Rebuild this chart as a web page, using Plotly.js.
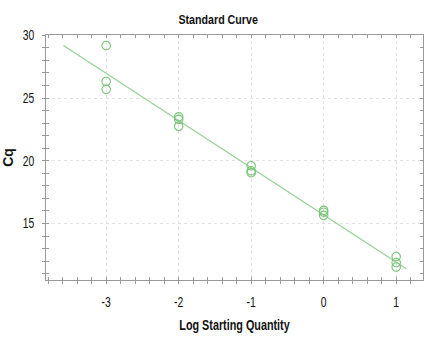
<!DOCTYPE html>
<html>
<head>
<meta charset="utf-8">
<script src="https://cdn.plot.ly/plotly-3.0.1.min.js"></script>
<style>html,body{margin:0;padding:0;background:#fff;}#chart{width:432px;height:351px;}</style>
</head>
<body>
<div id="chart"></div>
<script>
// Data
const logQty = [-3, -3, -3, -2, -2, -2, -1, -1, -1, 0, 0, 0, 1, 1, 1];
const cqValues = [29.18, 26.32, 25.69, 23.5, 23.3, 22.75, 19.6, 19.2, 19.05, 16.05, 15.9, 15.65, 12.37, 11.89, 11.53];
const fitX = [-3.59, 1.14];
const fitY = [29.18, 11.39];
const xTickVals = [-3, -2, -1, 0, 1];
const xTickText = ['-3', '-2', '-1', '0', '1'];
const yTickVals = [15, 20, 25, 30];
const yTickText = ['15', '20', '25', '30'];

const FONT = '"Liberation Sans", Arial, sans-serif';
const axisGray = '#9a9a9a';
const gridGray = '#e2e2e2';
const xr = [-3.83, 1.37];
const yr = [10.5, 30.02];

const traces = [
  {x: fitX, y: fitY, mode: 'lines', type: 'scatter',
   line: {color: 'rgb(150,208,150)', width: 1.2}, hoverinfo: 'skip', showlegend: false},
  {x: logQty, y: cqValues, mode: 'markers', type: 'scatter',
   marker: {symbol: 'circle-open', size: 8.5, color: 'rgb(120,196,120)', line: {width: 1.1}},
   showlegend: false},
  {x: [xr[0]], y: [yr[0]], xaxis: 'x2', yaxis: 'y2', mode: 'markers', type: 'scatter',
   marker: {opacity: 0}, hoverinfo: 'skip', showlegend: false}
];

const baseX = {
  range: xr, tickvals: xTickVals, ticktext: xTickText, ticklen: 3, tickcolor: axisGray,
  showline: true, linecolor: axisGray, linewidth: 1, zeroline: false
};
const baseY = {
  range: yr, tickvals: yTickVals, ticktext: yTickText, ticklen: 3, tickcolor: axisGray,
  showline: true, linecolor: axisGray, linewidth: 1, zeroline: false
};

const layout = {
  width: 432, height: 351,
  margin: {l: 46, r: 9, t: 35, b: 71},
  paper_bgcolor: '#fff', plot_bgcolor: '#fff',
  title: {text: '<b>Standard Curve</b>', x: 0.505, xref: 'container', y: 0.945, yanchor: 'middle',
          font: {family: FONT, size: 13, color: '#111'}},
  xaxis: Object.assign({}, baseX, {
    ticks: 'outside', mirror: true, showgrid: true, gridcolor: gridGray, griddash: 'dot', gridwidth: 1,
    minor: {dtick: 0.2, ticklen: 3, tickcolor: axisGray, ticks: 'outside', showgrid: false},
    tickfont: {family: FONT, size: 14, color: '#111'}, ticklabelstandoff: 6,
    title: {text: '<b>Log Starting Quantity</b>', font: {family: FONT, size: 15, color: '#111'}, standoff: 10}
  }),
  yaxis: Object.assign({}, baseY, {
    ticks: 'outside', mirror: true, showgrid: true, gridcolor: gridGray, griddash: 'dot', gridwidth: 1,
    minor: {dtick: 1, ticklen: 3, tickcolor: axisGray, ticks: 'outside', showgrid: false},
    tickfont: {family: FONT, size: 14, color: '#111'}, ticklabelstandoff: 5,
    title: {text: '<b>Cq</b>', font: {family: FONT, size: 14, color: '#111'}, standoff: 10}
  }),
  xaxis2: Object.assign({}, baseX, {
    overlaying: 'x', anchor: 'y2', side: 'bottom', ticks: 'inside', mirror: 'ticks',
    showgrid: false, showticklabels: false,
    minor: {dtick: 0.2, ticklen: 3, tickcolor: axisGray, ticks: 'inside', showgrid: false}
  }),
  yaxis2: Object.assign({}, baseY, {
    overlaying: 'y', anchor: 'x2', side: 'left', ticks: 'inside', mirror: 'ticks',
    showgrid: false, showticklabels: false,
    minor: {dtick: 1, ticklen: 3, tickcolor: axisGray, ticks: 'inside', showgrid: false}
  })
};

function condense(selector, ratio) {
  document.querySelectorAll(selector).forEach(function (t) {
    const len = t.getComputedTextLength();
    if (len > 0) {
      t.setAttribute('textLength', (len * ratio).toFixed(2));
      t.setAttribute('lengthAdjust', 'spacingAndGlyphs');
    }
  });
}

Plotly.newPlot('chart', traces, layout, {displayModeBar: false, staticPlot: true}).then(function () {
  condense('#chart .gtitle', 0.82);
  condense('#chart .xtitle', 0.72);
  condense('#chart .xtick text', 0.74);
  condense('#chart .ytick text', 0.74);
});
</script>
</body>
</html>
